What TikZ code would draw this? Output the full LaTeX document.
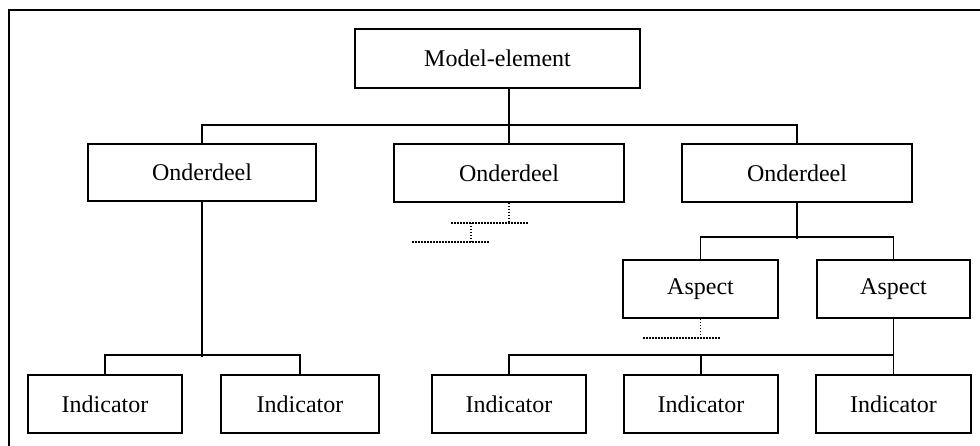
\documentclass[tikz,border=0pt]{standalone}
\usepackage{fontspec}
\setmainfont{Liberation Serif}
\begin{document}
\begin{tikzpicture}[x=1pt,y=-1pt,
  box/.style={draw,line width=2pt,rectangle,inner sep=0pt,
    font=\fontsize{24}{28}\selectfont},
  link/.style={line width=1.9pt},
  dotlink/.style={line width=1.5pt,dash pattern=on 1.5pt off 1.5pt},
  frame/.style={line width=2.2pt}]
\useasboundingbox (0,0) rectangle (980,446);
\clip (0,0) rectangle (980,446);

% outer frame (runs past the page on the right and bottom)
\draw[frame] (9,10) rectangle (1000,470);

% top level
\node[box,minimum width=285pt,minimum height=59pt] (me) at (497.5,58.5) {Model-element};

% second level
\node[box,minimum width=228pt,minimum height=57pt] (o1) at (202,172.5) {Onderdeel};
\node[box,minimum width=230pt,minimum height=58pt] (o2) at (509,173) {Onderdeel};
\node[box,minimum width=230pt,minimum height=58pt] (o3) at (797,173) {Onderdeel};

% aspects
\node[box,minimum width=155pt,minimum height=58pt] (a1) at (700.5,289) {Aspect};
\node[box,minimum width=153pt,minimum height=58pt] (a2) at (893.5,289) {Aspect};

% indicators
\node[box,minimum width=154pt,minimum height=58pt] (i1) at (105,404) {Indicator};
\node[box,minimum width=158pt,minimum height=58pt] (i2) at (300,404) {Indicator};
\node[box,minimum width=154pt,minimum height=58pt] (i3) at (509,404) {Indicator};
\node[box,minimum width=154pt,minimum height=58pt] (i4) at (701,404) {Indicator};
\node[box,minimum width=155pt,minimum height=58pt] (i5) at (893.5,404) {Indicator};

% model-element to parts
\draw[link] (me.south -| o2.north) -- (o2.north);
\draw[link] (o1.north) -- ++(0,-18) -| (o3.north);

% part to aspects
\draw[link] (o3.south) -- ++(0,36);
\draw[link] (a1.north) -- ++(0,-22) -| (a2.north);

% part to indicators
\draw[link] (o1.south) -- ++(0,155);
\draw[link] (i1.north) -- ++(0,-19) -| (i2.north);

% aspect to indicators
\draw[link] (a2.south) -- (i5.north);
\draw[link] (i3.north) -- ++(0,-19) -| (i5.north);
\draw[link] (i4.north) -- ++(0,-19);

% open branches
\draw[dotlink] (o2.south) -- ++(0,20) coordinate (d1);
\draw[dotlink] (d1) ++(-58,0) -- ++(77,0);
\draw[dotlink] (d1) ++(-38,0) -- ++(0,19) coordinate (d2);
\draw[dotlink] (d2) ++(-59,0) -- ++(78,0);
\draw[dotlink] (a1.south) -- ++(0,19) coordinate (d3);
\draw[dotlink] (d3) ++(-57.5,0) -- ++(77,0);
\end{tikzpicture}
\end{document}
